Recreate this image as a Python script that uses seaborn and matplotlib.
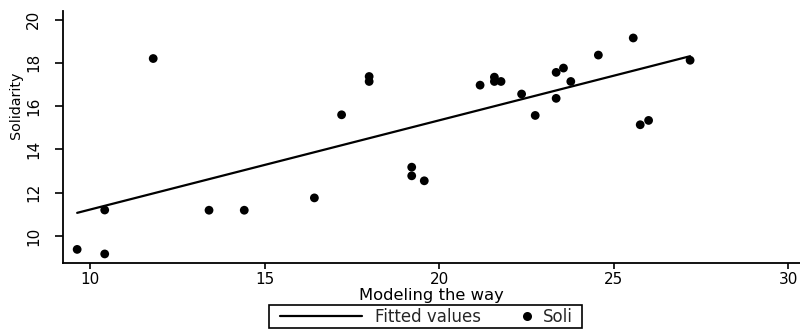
import numpy as np
import pandas as pd
import matplotlib
matplotlib.use("Agg")
import matplotlib.pyplot as plt
import seaborn as sns
from matplotlib.lines import Line2D
from matplotlib.patches import Rectangle
from matplotlib.legend_handler import HandlerLine2D

# ---- data ----
modeling = [9.62, 10.41, 10.41, 11.80, 13.40, 14.41, 16.42, 17.20, 17.99, 17.99,
            19.21, 19.21, 19.57, 21.17, 21.58, 21.58, 21.77, 22.36, 22.75, 23.35,
            23.56, 23.35, 23.77, 24.56, 25.56, 25.76, 26.00, 27.19]
solidarity = [9.38, 9.17, 11.20, 18.20, 11.19, 11.19, 11.76, 15.60, 17.37, 17.14,
              13.18, 12.78, 12.55, 16.97, 17.34, 17.14, 17.14, 16.56, 15.57, 17.56,
              17.76, 16.36, 17.14, 18.36, 19.15, 15.14, 15.34, 18.12]
x_ticks = [10, 15, 20, 25, 30]
y_ticks = [10, 12, 14, 16, 18, 20]
x_label = "Modeling the way"
y_label = "Solidarity"
legend_labels = ["Fitted values", "Soli"]

sns.set_style("ticks")
plt.rcParams["font.family"] = ["DejaVu Sans"]

df = pd.DataFrame({x_label: modeling, y_label: solidarity})

fig = plt.figure(figsize=(8, 3.31), dpi=100)
ax = fig.add_axes([0.079, 0.206, 0.921, 0.761])

sns.regplot(data=df, x=x_label, y=y_label, ci=None, scatter=False, truncate=True,
            color="black", line_kws=dict(lw=1.6), ax=ax)
sns.scatterplot(data=df, x=x_label, y=y_label, color="black", s=40,
                edgecolor="none", ax=ax, zorder=3)

ax.set_xlim(9.22, 30.34)
ax.set_ylim(8.76, 20.4)
sns.despine(ax=ax)
for s in ("left", "bottom"):
    ax.spines[s].set_linewidth(1.3)
    ax.spines[s].set_color("black")

ax.set_xticks(x_ticks)
ax.set_yticks(y_ticks)
ax.tick_params(axis="x", length=4, width=1.2, pad=2.5, labelsize=11, colors="black")
ax.tick_params(axis="y", length=6, width=1.2, pad=10, labelsize=11, colors="black",
               labelrotation=90)
for lbl in ax.get_yticklabels():
    lbl.set_va("center")

ax.set_xlabel(x_label, fontsize=11.8, labelpad=1, color="black")
ax.set_ylabel(y_label, fontsize=10.3, color="black")
ax.yaxis.set_label_coords(-0.055, 0.627)


class RightDot(HandlerLine2D):
    def create_artists(self, legend, orig_handle, xdescent, ydescent, width,
                       height, fontsize, trans):
        arts = super().create_artists(legend, orig_handle, xdescent, ydescent,
                                      width, height, fontsize, trans)
        xr = width - xdescent - 0.15 * fontsize
        for a in arts:
            if isinstance(a, Line2D):
                n = len(a.get_xdata())
                a.set_xdata(np.full(n, xr))
        return arts


h1 = Line2D([], [], color="black", lw=1.6)
h2 = Line2D([], [], color="black", marker="o", ls="none", markersize=6.5,
            markeredgewidth=0)
leg = fig.legend([h1, h2], legend_labels, handler_map={h2: RightDot()}, ncol=2,
                 loc="center", bbox_to_anchor=(0.533, 0.043), frameon=False,
                 fontsize=12, handlelength=4.9, handletextpad=0.78,
                 columnspacing=-2.0, borderpad=0.15, borderaxespad=0)

# legend frame: legend extent widened horizontally like the reference box
fig.canvas.draw()
bb = leg.get_window_extent()
fig.patches.append(Rectangle((bb.x0 - 9, bb.y0), bb.width + 16, bb.height,
                             transform=None, fill=False, edgecolor="black",
                             linewidth=1.2, figure=fig))

fig.savefig("out.png", dpi=100)
